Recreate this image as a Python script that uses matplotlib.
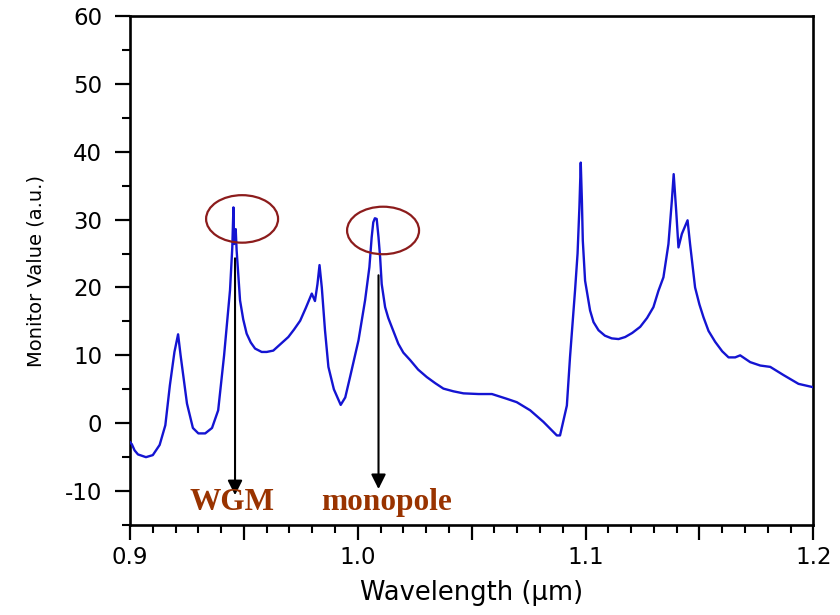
import matplotlib
matplotlib.use("Agg")
import matplotlib.pyplot as plt
from matplotlib.patches import Ellipse
from matplotlib.ticker import MultipleLocator, FixedLocator, FuncFormatter

plt.rcParams["axes.unicode_minus"] = False

# Monitor spectrum (wavelength in um, monitor value in a.u.)
wavelength = [
    0.9000, 0.9008, 0.9020, 0.9035, 0.9070, 0.9100, 0.9130, 0.9155, 0.9175,
    0.9195, 0.9211, 0.9222, 0.9250, 0.9276, 0.9300, 0.9330, 0.9360, 0.9387,
    0.9413, 0.9439, 0.9449, 0.9454, 0.9457, 0.9464, 0.9468, 0.9483, 0.9497,
    0.9512, 0.9530, 0.9549, 0.9578, 0.9600, 0.9629, 0.9695, 0.9720, 0.9747,
    0.9772, 0.9798, 0.9812, 0.9823, 0.9832, 0.9842, 0.9856, 0.9871, 0.9895,
    0.9925, 0.9945, 0.9966, 1.0003, 1.0032, 1.0051, 1.0061, 1.0068, 1.0075,
    1.0083, 1.0091, 1.0098, 1.0105, 1.0120, 1.0134, 1.0149, 1.0178, 1.0200,
    1.0230, 1.0265, 1.0303, 1.0340, 1.0376, 1.0420, 1.0464, 1.0530, 1.0589,
    1.0654, 1.0698, 1.0757, 1.0815, 1.0874, 1.0888, 1.0918, 1.0932, 1.0954,
    1.0965, 1.0973, 1.0979, 1.0984, 1.0988, 1.0998, 1.1020, 1.1035, 1.1057,
    1.1085, 1.1115, 1.1145, 1.1174, 1.1205, 1.1240, 1.1270, 1.1298, 1.1320,
    1.1342, 1.1364, 1.1379, 1.1387, 1.1398, 1.1408, 1.1423, 1.1448, 1.1459,
    1.1481, 1.1500, 1.1518, 1.1540, 1.1569, 1.1600, 1.1628, 1.1657, 1.1679,
    1.1723, 1.1767, 1.1811, 1.1869, 1.1935, 1.2000,
]
monitor_value = [
    -2.8, -3.1, -4.0, -4.6, -5.0, -4.7, -3.2, -0.3, 5.6,
    10.5, 13.1, 10.0, 2.9, -0.7, -1.5, -1.5, -0.7, 1.9,
    10.0, 19.6, 25.9, 31.8, 26.4, 28.6, 25.5, 18.1, 15.3,
    13.2, 11.9, 11.0, 10.5, 10.5, 10.7, 12.7, 13.8, 15.1,
    17.0, 19.1, 18.0, 20.5, 23.3, 20.0, 13.7, 8.3, 5.0,
    2.7, 3.8, 6.8, 12.2, 18.1, 23.0, 27.4, 29.6, 30.2,
    30.1, 27.4, 24.5, 20.5, 17.1, 15.5, 14.2, 11.7, 10.4,
    9.3, 7.9, 6.8, 5.9, 5.1, 4.7, 4.4, 4.3, 4.3,
    3.6, 3.1, 1.9, 0.2, -1.8, -1.8, 2.6, 9.8, 19.6,
    25.0, 31.8, 38.4, 32.8, 26.9, 21.0, 16.6, 14.9, 13.7,
    12.9, 12.5, 12.4, 12.7, 13.3, 14.2, 15.5, 17.1, 19.5,
    21.5, 26.4, 32.8, 36.7, 31.3, 25.9, 27.9, 29.9, 26.4,
    20.0, 17.5, 15.6, 13.6, 12.0, 10.6, 9.7, 9.7, 10.0,
    9.0, 8.5, 8.3, 7.1, 5.8, 5.3,
]

# Marked resonances: label, arrow x, arrow start y, arrow tip y, label x
mode_labels = ["WGM", "monopole"]
mode_x = [0.9461, 1.0091]
arrow_top = [24.3, 21.8]
arrow_tip = [-10.6, -9.7]
label_x = [0.9448, 1.0124]
label_y = -12.8

# Circled peaks: centre x, centre y
circle_x = [0.9492, 1.0111]
circle_y = [30.1, 28.4]

x_ticks = [0.9, 1.0, 1.1, 1.2]
y_ticks = [-10, 0, 10, 20, 30, 40, 50, 60]

fig = plt.figure(figsize=(8.4, 6.15), dpi=100)
ax = fig.add_axes([0.1548, 0.1463, 0.8134, 0.8277])

ax.plot(wavelength, monitor_value, color="#1414d2", lw=1.7, zorder=3)

ax.set_xlim(0.9, 1.2)
ax.set_ylim(-15, 60)

# ticks: labelled every 0.1, medium every 0.05, minor every 0.01
ax.xaxis.set_major_locator(MultipleLocator(0.05))
ax.xaxis.set_major_formatter(FuncFormatter(
    lambda v, p: f"{v:.1f}" if any(abs(v - t) < 1e-6 for t in x_ticks) else ""))
ax.xaxis.set_minor_locator(MultipleLocator(0.01))
ax.yaxis.set_major_locator(FixedLocator(y_ticks))
ax.yaxis.set_minor_locator(MultipleLocator(5))

ax.tick_params(axis="both", which="major", direction="out", length=11,
               width=1.6, labelsize=16.5, color="black")
ax.tick_params(axis="both", which="minor", direction="out", length=6,
               width=1.5, color="black")
ax.tick_params(axis="y", which="major", pad=9)
ax.tick_params(axis="x", which="major", pad=4)

for side in ["left", "right", "top", "bottom"]:
    ax.spines[side].set_linewidth(1.9)
    ax.spines[side].set_color("black")

ax.set_xlabel("Wavelength (\u03bcm)", fontsize=18.5, labelpad=8)
ax.set_ylabel("Monitor Value (a.u.)", fontsize=14, labelpad=14)

for cx, cy in zip(circle_x, circle_y):
    ax.add_patch(Ellipse((cx, cy), width=0.0316, height=7.0, fill=False,
                         edgecolor="#8c1c1c", lw=1.6, zorder=4))

for name, ax_x, y0, y1, lx in zip(mode_labels, mode_x, arrow_top, arrow_tip, label_x):
    ax.annotate("", xy=(ax_x, y1), xytext=(ax_x, y0),
                arrowprops=dict(arrowstyle="-|>", color="black", lw=1.5,
                                mutation_scale=22, shrinkA=0, shrinkB=0),
                zorder=5)
    ax.text(lx, label_y, name, ha="center", va="baseline",
            family="Liberation Serif", fontweight="bold", fontsize=22.5,
            color="#993300", zorder=6)

fig.savefig("out.png", dpi=100)
